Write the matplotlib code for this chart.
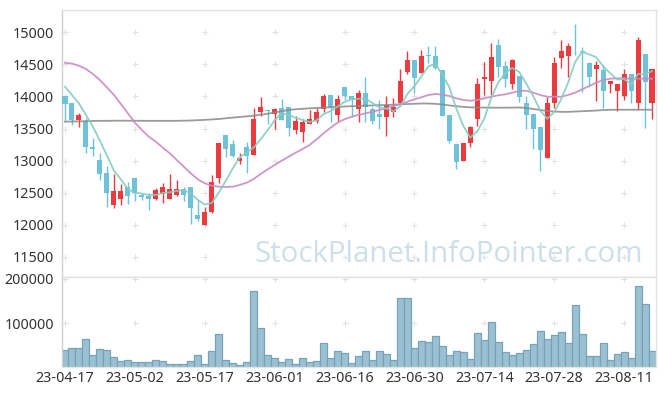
import matplotlib
matplotlib.use("Agg")
import matplotlib.pyplot as plt
import numpy as np

plt.rcParams['font.family'] = ['Noto Sans', 'DejaVu Sans']

# ---- data ----
tick_labels = ['23-04-17', '23-05-02', '23-05-17', '23-06-01', '23-06-16',
               '23-06-30', '23-07-14', '23-07-28', '23-08-11']
tick_index = [0, 10, 20, 30, 40, 50, 60, 70, 80]

opens = [14000, 13900, 13635, 13610, 13215, 13010, 12805, 12300, 12395, 12590,
         12730, 12465, 12455, 12405, 12480, 12405, 12470, 12555, 12590, 12150,
         12000, 12195, 12735, 13400, 13260, 13000, 13210, 13090, 13765, 13790,
         13725, 13820, 13830, 13470, 13445, 13575, 13610, 13805, 14025, 13715,
         14145, 14000, 13810, 14055, 13800, 13725, 13675, 13765, 13895, 14385,
         14570, 14370, 14635, 14630, 14410, 13710, 13260, 13000, 13280, 13650,
         14275, 14245, 14800, 14475, 14195, 14320, 13905, 13725, 13520, 13035,
         13895, 14595, 14635, 14790, 14705, 14515, 14430, 14410, 14200, 14085,
         14005, 14345, 13895, 14655, 13905]
highs = [14005, 13900, 13745, 13660, 13350, 13115, 12920, 12785, 12630, 12660,
         12735, 12500, 12500, 12565, 12650, 12790, 12695, 12595, 12590, 12385,
         12280, 12775, 13280, 13400, 13320, 13115, 13295, 13825, 13985, 13790,
         13815, 13960, 13830, 13690, 13645, 13790, 13825, 14040, 14025, 14025,
         14150, 14000, 14100, 14300, 13840, 13950, 14000, 13970, 14425, 14710,
         14575, 14725, 14790, 14790, 14415, 13710, 13260, 13275, 13535, 14285,
         14540, 14840, 14890, 14555, 14585, 14320, 14000, 13730, 13520, 13985,
         14620, 14880, 14830, 15125, 14775, 14540, 14555, 14490, 14245, 14195,
         14430, 14345, 14930, 14655, 14430]
lows = [13610, 13560, 13520, 13115, 13070, 12690, 12270, 12255, 12310, 12320,
        12365, 12385, 12225, 12390, 12335, 12400, 12450, 12375, 12010, 12060,
        12000, 12190, 12655, 13060, 13055, 12940, 12800, 13085, 13695, 13570,
        13490, 13630, 13390, 13415, 13295, 13575, 13580, 13760, 13605, 13620,
        13950, 13675, 13605, 13605, 13570, 13490, 13383, 13685, 13890, 14350,
        14050, 14365, 14515, 14435, 13695, 13280, 12865, 12995, 13205, 13540,
        14025, 14025, 14300, 14150, 14110, 13920, 13490, 13175, 12830, 13035,
        13815, 14450, 14310, 14645, 14075, 14150, 13930, 13815, 14050, 13775,
        13945, 13895, 13800, 13505, 13650]
closes = [13890, 13640, 13710, 13215, 13185, 12795, 12500, 12525, 12525, 12445,
          12500, 12440, 12405, 12535, 12590, 12555, 12555, 12470, 12265, 12090,
          12200, 12665, 13275, 13185, 13070, 13040, 13070, 13650, 13835, 13780,
          13800, 13635, 13510, 13615, 13600, 13650, 13760, 14005, 13840, 13960,
          14010, 13955, 14055, 13840, 13620, 13685, 13865, 13840, 14240, 14570,
          14285, 14630, 14625, 14440, 13700, 13310, 12985, 13270, 13530, 14190,
          14305, 14610, 14465, 14270, 14565, 13995, 13710, 13490, 13165, 13900,
          14515, 14710, 14785, 14780, 14695, 14310, 14490, 14085, 14240, 14195,
          14345, 14085, 14880, 14230, 14430]
volumes = [39000, 43800, 43800, 63400, 27900, 41500, 39300, 23400, 14300, 16600,
           12100, 12100, 12100, 16600, 14300, 7500, 7500, 7500, 14300, 27900,
           7500, 37000, 75500, 16600, 9800, 5300, 12100, 172900, 89100, 27900,
           21100, 12100, 18900, 7500, 21100, 12100, 14300, 55100, 20400, 37000,
           32500, 9000, 24900, 37000, 16600, 37000, 29400, 16600, 156300, 156300,
           43000, 59600, 56600, 70200, 47600, 27200, 37000, 34000, 18100, 77000,
           61200, 101900, 56600, 34000, 27200, 31700, 38500, 52100, 81500, 63400,
           72500, 79300, 55100, 140400, 74700, 24900, 24900, 55100, 16600, 29400,
           34000, 20400, 183500, 142700, 37000]
ma5 = [14152, 14023, 13893, 13711, 13528, 13309, 13081, 12844, 12706, 12558,
       12499, 12487, 12463, 12465, 12494, 12505, 12528, 12541, 12487, 12387,
       12316, 12338, 12499, 12683, 12879, 13047, 13128, 13203, 13333, 13475,
       13627, 13740, 13712, 13668, 13632, 13602, 13627, 13726, 13771, 13843,
       13915, 13954, 13964, 13966, 13896, 13831, 13813, 13770, 13850, 14040,
       14160, 14313, 14470, 14510, 14336, 14141, 13812, 13541, 13359, 13457,
       13656, 13981, 14220, 14368, 14443, 14381, 14201, 14006, 13785, 13652,
       13756, 13956, 14215, 14538, 14697, 14656, 14612, 14472, 14364, 14264,
       14271, 14190, 14349, 14347, 14394]
ma20 = [14526, 14511, 14479, 14428, 14350, 14256, 14142, 14023, 13882, 13737,
        13591, 13477, 13372, 13295, 13201, 13114, 13009, 12905, 12802, 12708,
        12646, 12609, 12593, 12590, 12593, 12620, 12655, 12713, 12791, 12864,
        12931, 12998, 13061, 13123, 13180, 13243, 13332, 13425, 13513, 13591,
        13644, 13684, 13711, 13737, 13762, 13789, 13815, 13851, 13882, 13918,
        13955, 13987, 14023, 14038, 14028, 14007, 13971, 13945, 13934, 13945,
        13971, 13996, 14018, 14033, 14059, 14085, 14090, 14059, 14023, 13996,
        13996, 13996, 14023, 14059, 14111, 14163, 14214, 14256, 14277, 14283,
        14283, 14277, 14277, 14277, 14277]
ma60 = [13606, 13610, 13612, 13615, 13618, 13620, 13620, 13622, 13622, 13622,
        13622, 13620, 13620, 13620, 13620, 13620, 13620, 13622, 13625, 13630,
        13635, 13642, 13648, 13660, 13670, 13680, 13690, 13700, 13715, 13730,
        13750, 13770, 13789, 13800, 13808, 13815, 13820, 13825, 13832, 13838,
        13843, 13848, 13852, 13856, 13860, 13864, 13867, 13872, 13877, 13882,
        13886, 13890, 13890, 13885, 13875, 13860, 13848, 13838, 13830, 13828,
        13826, 13825, 13825, 13825, 13826, 13828, 13820, 13805, 13789, 13775,
        13765, 13760, 13760, 13765, 13770, 13775, 13780, 13788, 13792, 13793,
        13793, 13793, 13793, 13793, 13793]

# ---- figure ----
W, H = 665, 396
fig = plt.figure(figsize=(W / 100, H / 100), dpi=100)
L, R = 61.5 / W, 655.5 / W
ax = fig.add_axes([L, 1 - 277 / H, R - L, (277 - 10) / H])
axv = fig.add_axes([L, 1 - 367.3 / H, R - L, (367.3 - 277) / H], sharex=ax)

UP = '#ec3a3f'
DOWN = '#6ec3da'
x = np.arange(len(closes))
o = np.array(opens); c = np.array(closes)
colors = [UP if cc >= oo else DOWN for oo, cc in zip(o, c)]
body_bottom = np.minimum(o, c)
body_h = np.maximum(np.abs(c - o), 14)

ax.vlines(x, lows, highs, colors=colors, linewidth=1.0, zorder=2)
ax.bar(x, body_h, bottom=body_bottom, width=0.72, color=colors, linewidth=0, zorder=3)

ax.plot(x, ma60, color='#8a8a8a', lw=1.3, alpha=0.85, zorder=4)
ax.plot(x, ma20, color='#c98ac6', lw=1.3, alpha=0.9, zorder=4)
ax.plot(x, ma5, color='#86ccc0', lw=1.3, alpha=0.9, zorder=4)

ax.set_xlim(-0.5, len(closes) - 0.5)
ax.set_ylim(11185, 15348)
price_ticks = [11500, 12000, 12500, 13000, 13500, 14000, 14500, 15000]
ax.set_yticks(price_ticks)
ax.set_yticklabels([str(v) for v in price_ticks])

# grid crosses
gx, gy = np.meshgrid(tick_index, price_ticks)
ax.plot(gx.ravel(), gy.ravel(), linestyle='none', marker='+', markersize=4.5,
        color='#e2e2e2', mew=0.8, zorder=1)

# watermark
ax.text(0.652, 0.086, 'StockPlanet.InfoPointer.com', transform=ax.transAxes,
        ha='center', va='center', fontsize=21.2, color='#cddfe9',
        family=['Open Sans', 'DejaVu Sans'], zorder=0)

# volume
axv.bar(x, volumes, width=1.0, color='#9bc0d1', edgecolor='#75a3b9', linewidth=0.9, zorder=2)
axv.set_ylim(0, 204000)
vol_ticks = [100000, 200000]
axv.set_yticks(vol_ticks)
axv.set_yticklabels([str(v) for v in vol_ticks])
vgx, vgy = np.meshgrid(tick_index, vol_ticks)
axv.plot(vgx.ravel(), vgy.ravel(), linestyle='none', marker='+', markersize=4.5,
         color='#e2e2e2', mew=0.8, zorder=1)
axv.set_xticks(tick_index)
axv.set_xticklabels(tick_labels)

for a in (ax, axv):
    for s in a.spines.values():
        s.set_color('#e3e3e3')
        s.set_linewidth(1.0)
    a.spines['left'].set_color('#d0d0d0')
    a.tick_params(length=0, labelsize=10.3, colors='#333333', pad=5.5)
ax.tick_params(axis='x', labelbottom=False)
axv.tick_params(axis='x', pad=3)

fig.savefig('out.png', dpi=100)
